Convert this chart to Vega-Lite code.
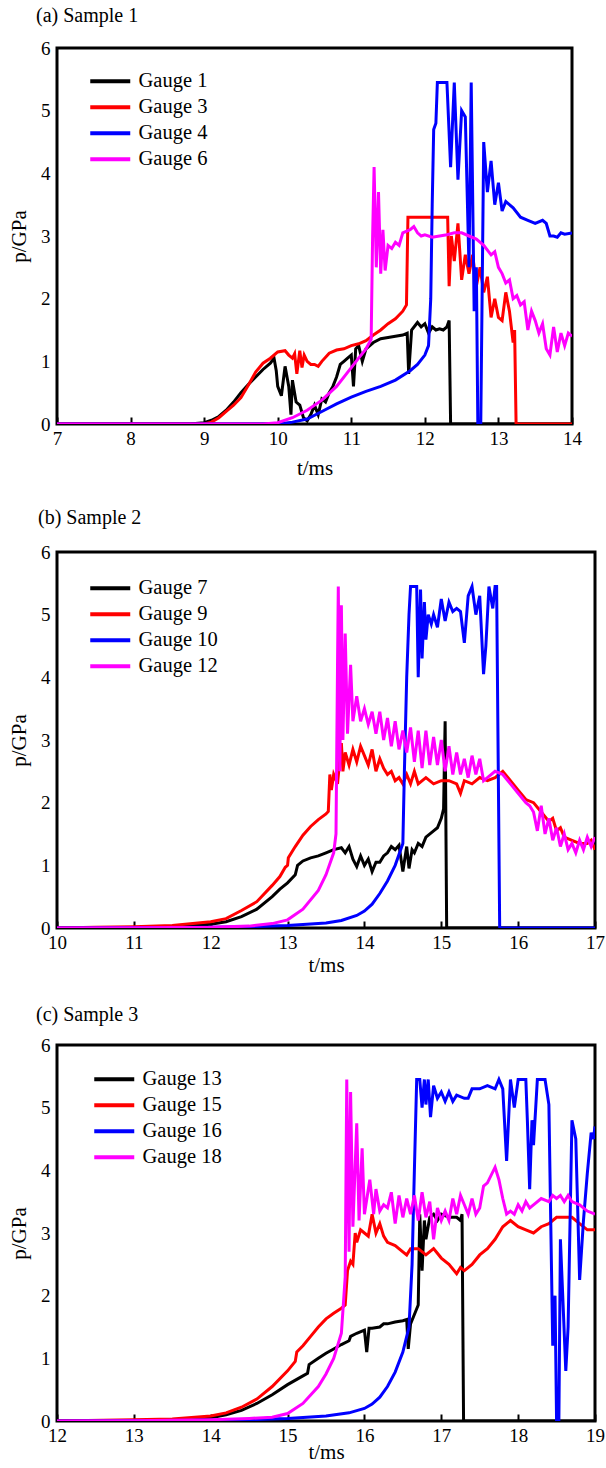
{
"$schema": "https://vega.github.io/schema/vega-lite/v6.json",
"background": "white",
"padding": {"left": 7, "top": 4, "right": 4, "bottom": 4},
"spacing": 26,
"resolve": {"scale": {"color": "independent"}, "legend": {"color": "independent"}},
"config": {
  "font": "Liberation Serif, Times New Roman, DejaVu Serif, serif",
  "view": {"stroke": "black", "strokeWidth": 3},
  "axis": {"grid": false, "domain": false, "labelFont": "Liberation Serif, Times New Roman, DejaVu Serif, serif", "labelFontSize": 19, "labelColor": "black", "titleFont": "Liberation Serif, Times New Roman, DejaVu Serif, serif", "titleFontSize": 21, "titleFontWeight": "normal", "titleColor": "black"},
  "axisX": {"tickSize": -7, "tickColor": "black", "tickWidth": 2, "labelPadding": 12, "labelFlush": false},
  "axisY": {"ticks": false, "labelPadding": 7, "titlePadding": 11},
  "legend": {"title": null, "orient": "none", "padding": 0, "labelFont": "Liberation Serif, Times New Roman, DejaVu Serif, serif", "labelFontSize": 20.5, "labelColor": "black", "symbolType": "M-4,0L4,0", "symbolSize": 100, "symbolStrokeWidth": 4, "labelOffset": 18, "rowPadding": 5}, 
  "title": {"anchor": "start", "frame": "group", "fontSize": 20, "fontWeight": "normal", "font": "Liberation Serif, Times New Roman, DejaVu Serif, serif", "color": "black"}
},
"datasets": {
"a": [
{"g":"Gauge 1","t":7,"p":0},{"g":"Gauge 1","t":8.8,"p":0},{"g":"Gauge 1","t":9.0,"p":0.02},{"g":"Gauge 1","t":9.1,"p":0.06},{"g":"Gauge 1","t":9.2,"p":0.12},{"g":"Gauge 1","t":9.3,"p":0.22},{"g":"Gauge 1","t":9.4,"p":0.35},{"g":"Gauge 1","t":9.5,"p":0.5},{"g":"Gauge 1","t":9.6,"p":0.63},{"g":"Gauge 1","t":9.7,"p":0.75},{"g":"Gauge 1","t":9.8,"p":0.87},{"g":"Gauge 1","t":9.9,"p":0.97},{"g":"Gauge 1","t":9.95,"p":1.05},{"g":"Gauge 1","t":9.98,"p":0.85},{"g":"Gauge 1","t":10.0,"p":0.6},{"g":"Gauge 1","t":10.05,"p":0.45},{"g":"Gauge 1","t":10.1,"p":0.92},{"g":"Gauge 1","t":10.15,"p":0.6},{"g":"Gauge 1","t":10.18,"p":0.15},{"g":"Gauge 1","t":10.2,"p":0.7},{"g":"Gauge 1","t":10.25,"p":0.35},{"g":"Gauge 1","t":10.3,"p":0.3},{"g":"Gauge 1","t":10.35,"p":0.1},{"g":"Gauge 1","t":10.4,"p":0.05},{"g":"Gauge 1","t":10.45,"p":0.15},{"g":"Gauge 1","t":10.5,"p":0.3},{"g":"Gauge 1","t":10.55,"p":0.15},{"g":"Gauge 1","t":10.6,"p":0.4},{"g":"Gauge 1","t":10.65,"p":0.35},{"g":"Gauge 1","t":10.7,"p":0.5},{"g":"Gauge 1","t":10.75,"p":0.6},{"g":"Gauge 1","t":10.8,"p":0.75},{"g":"Gauge 1","t":10.85,"p":0.95},{"g":"Gauge 1","t":10.9,"p":1.0},{"g":"Gauge 1","t":10.95,"p":1.05},{"g":"Gauge 1","t":11.0,"p":1.1},{"g":"Gauge 1","t":11.03,"p":0.6},{"g":"Gauge 1","t":11.06,"p":1.2},{"g":"Gauge 1","t":11.1,"p":1.25},{"g":"Gauge 1","t":11.15,"p":1.0},{"g":"Gauge 1","t":11.2,"p":1.2},{"g":"Gauge 1","t":11.3,"p":1.3},{"g":"Gauge 1","t":11.4,"p":1.36},{"g":"Gauge 1","t":11.5,"p":1.38},{"g":"Gauge 1","t":11.6,"p":1.4},{"g":"Gauge 1","t":11.7,"p":1.42},{"g":"Gauge 1","t":11.76,"p":1.45},{"g":"Gauge 1","t":11.78,"p":0.8},{"g":"Gauge 1","t":11.82,"p":1.5},{"g":"Gauge 1","t":11.9,"p":1.62},{"g":"Gauge 1","t":11.95,"p":1.55},{"g":"Gauge 1","t":12.0,"p":1.6},{"g":"Gauge 1","t":12.05,"p":1.45},{"g":"Gauge 1","t":12.1,"p":1.55},{"g":"Gauge 1","t":12.15,"p":1.5},{"g":"Gauge 1","t":12.2,"p":1.52},{"g":"Gauge 1","t":12.25,"p":1.5},{"g":"Gauge 1","t":12.3,"p":1.55},{"g":"Gauge 1","t":12.33,"p":1.65},{"g":"Gauge 1","t":12.35,"p":0},{"g":"Gauge 1","t":14,"p":0},
{"g":"Gauge 3","t":7,"p":0},{"g":"Gauge 3","t":9.0,"p":0},{"g":"Gauge 3","t":9.1,"p":0.03},{"g":"Gauge 3","t":9.2,"p":0.1},{"g":"Gauge 3","t":9.3,"p":0.2},{"g":"Gauge 3","t":9.4,"p":0.3},{"g":"Gauge 3","t":9.5,"p":0.42},{"g":"Gauge 3","t":9.6,"p":0.62},{"g":"Gauge 3","t":9.7,"p":0.83},{"g":"Gauge 3","t":9.8,"p":0.97},{"g":"Gauge 3","t":9.9,"p":1.05},{"g":"Gauge 3","t":10.0,"p":1.15},{"g":"Gauge 3","t":10.1,"p":1.17},{"g":"Gauge 3","t":10.15,"p":1.1},{"g":"Gauge 3","t":10.2,"p":1.05},{"g":"Gauge 3","t":10.23,"p":1.12},{"g":"Gauge 3","t":10.26,"p":0.8},{"g":"Gauge 3","t":10.3,"p":1.17},{"g":"Gauge 3","t":10.33,"p":0.9},{"g":"Gauge 3","t":10.36,"p":1.1},{"g":"Gauge 3","t":10.4,"p":1.0},{"g":"Gauge 3","t":10.45,"p":0.95},{"g":"Gauge 3","t":10.5,"p":0.95},{"g":"Gauge 3","t":10.55,"p":0.92},{"g":"Gauge 3","t":10.6,"p":1.0},{"g":"Gauge 3","t":10.7,"p":1.13},{"g":"Gauge 3","t":10.8,"p":1.18},{"g":"Gauge 3","t":10.9,"p":1.2},{"g":"Gauge 3","t":11.0,"p":1.25},{"g":"Gauge 3","t":11.1,"p":1.28},{"g":"Gauge 3","t":11.2,"p":1.33},{"g":"Gauge 3","t":11.3,"p":1.42},{"g":"Gauge 3","t":11.4,"p":1.5},{"g":"Gauge 3","t":11.5,"p":1.6},{"g":"Gauge 3","t":11.6,"p":1.68},{"g":"Gauge 3","t":11.7,"p":1.8},{"g":"Gauge 3","t":11.75,"p":1.9},{"g":"Gauge 3","t":11.77,"p":3.3},{"g":"Gauge 3","t":12.31,"p":3.3},{"g":"Gauge 3","t":12.33,"p":2.2},{"g":"Gauge 3","t":12.36,"p":3.0},{"g":"Gauge 3","t":12.4,"p":2.6},{"g":"Gauge 3","t":12.45,"p":3.2},{"g":"Gauge 3","t":12.5,"p":2.3},{"g":"Gauge 3","t":12.55,"p":2.7},{"g":"Gauge 3","t":12.6,"p":2.4},{"g":"Gauge 3","t":12.65,"p":2.7},{"g":"Gauge 3","t":12.7,"p":2.2},{"g":"Gauge 3","t":12.75,"p":2.5},{"g":"Gauge 3","t":12.8,"p":2.1},{"g":"Gauge 3","t":12.85,"p":2.35},{"g":"Gauge 3","t":12.9,"p":1.7},{"g":"Gauge 3","t":12.95,"p":2.0},{"g":"Gauge 3","t":13.0,"p":1.7},{"g":"Gauge 3","t":13.05,"p":1.65},{"g":"Gauge 3","t":13.1,"p":2.1},{"g":"Gauge 3","t":13.15,"p":1.8},{"g":"Gauge 3","t":13.2,"p":1.3},{"g":"Gauge 3","t":13.22,"p":1.5},{"g":"Gauge 3","t":13.24,"p":0},{"g":"Gauge 3","t":14,"p":0},
{"g":"Gauge 4","t":7,"p":0},{"g":"Gauge 4","t":10.0,"p":0},{"g":"Gauge 4","t":10.2,"p":0.03},{"g":"Gauge 4","t":10.4,"p":0.08},{"g":"Gauge 4","t":10.6,"p":0.2},{"g":"Gauge 4","t":10.8,"p":0.32},{"g":"Gauge 4","t":11.0,"p":0.43},{"g":"Gauge 4","t":11.2,"p":0.52},{"g":"Gauge 4","t":11.4,"p":0.6},{"g":"Gauge 4","t":11.6,"p":0.7},{"g":"Gauge 4","t":11.8,"p":0.85},{"g":"Gauge 4","t":11.9,"p":0.95},{"g":"Gauge 4","t":12.0,"p":1.1},{"g":"Gauge 4","t":12.05,"p":1.25},{"g":"Gauge 4","t":12.08,"p":2.0},{"g":"Gauge 4","t":12.1,"p":3.5},{"g":"Gauge 4","t":12.12,"p":4.7},{"g":"Gauge 4","t":12.15,"p":4.8},{"g":"Gauge 4","t":12.17,"p":5.45},{"g":"Gauge 4","t":12.3,"p":5.45},{"g":"Gauge 4","t":12.35,"p":4.1},{"g":"Gauge 4","t":12.4,"p":5.45},{"g":"Gauge 4","t":12.45,"p":3.9},{"g":"Gauge 4","t":12.5,"p":5.0},{"g":"Gauge 4","t":12.55,"p":4.9},{"g":"Gauge 4","t":12.6,"p":2.5},{"g":"Gauge 4","t":12.63,"p":5.45},{"g":"Gauge 4","t":12.67,"p":1.8},{"g":"Gauge 4","t":12.7,"p":2.5},{"g":"Gauge 4","t":12.72,"p":0},{"g":"Gauge 4","t":12.76,"p":0},{"g":"Gauge 4","t":12.8,"p":4.5},{"g":"Gauge 4","t":12.85,"p":3.7},{"g":"Gauge 4","t":12.9,"p":4.2},{"g":"Gauge 4","t":12.95,"p":3.5},{"g":"Gauge 4","t":13.0,"p":3.85},{"g":"Gauge 4","t":13.05,"p":3.4},{"g":"Gauge 4","t":13.1,"p":3.55},{"g":"Gauge 4","t":13.2,"p":3.45},{"g":"Gauge 4","t":13.3,"p":3.3},{"g":"Gauge 4","t":13.4,"p":3.25},{"g":"Gauge 4","t":13.5,"p":3.2},{"g":"Gauge 4","t":13.6,"p":3.25},{"g":"Gauge 4","t":13.65,"p":3.2},{"g":"Gauge 4","t":13.7,"p":3.0},{"g":"Gauge 4","t":13.75,"p":3.0},{"g":"Gauge 4","t":13.8,"p":2.98},{"g":"Gauge 4","t":13.85,"p":3.05},{"g":"Gauge 4","t":13.9,"p":3.03},{"g":"Gauge 4","t":14.0,"p":3.05},
{"g":"Gauge 6","t":7,"p":0},{"g":"Gauge 6","t":9.8,"p":0},{"g":"Gauge 6","t":10.0,"p":0.02},{"g":"Gauge 6","t":10.2,"p":0.1},{"g":"Gauge 6","t":10.4,"p":0.22},{"g":"Gauge 6","t":10.6,"p":0.38},{"g":"Gauge 6","t":10.8,"p":0.6},{"g":"Gauge 6","t":11.0,"p":0.9},{"g":"Gauge 6","t":11.1,"p":1.05},{"g":"Gauge 6","t":11.2,"p":1.2},{"g":"Gauge 6","t":11.27,"p":1.35},{"g":"Gauge 6","t":11.29,"p":3.0},{"g":"Gauge 6","t":11.31,"p":4.1},{"g":"Gauge 6","t":11.34,"p":2.5},{"g":"Gauge 6","t":11.37,"p":3.7},{"g":"Gauge 6","t":11.4,"p":2.4},{"g":"Gauge 6","t":11.43,"p":3.1},{"g":"Gauge 6","t":11.46,"p":2.45},{"g":"Gauge 6","t":11.5,"p":2.85},{"g":"Gauge 6","t":11.55,"p":2.8},{"g":"Gauge 6","t":11.6,"p":2.9},{"g":"Gauge 6","t":11.65,"p":2.85},{"g":"Gauge 6","t":11.7,"p":3.05},{"g":"Gauge 6","t":11.8,"p":3.1},{"g":"Gauge 6","t":11.85,"p":3.15},{"g":"Gauge 6","t":11.9,"p":3.05},{"g":"Gauge 6","t":11.95,"p":3.0},{"g":"Gauge 6","t":12.0,"p":3.02},{"g":"Gauge 6","t":12.1,"p":2.98},{"g":"Gauge 6","t":12.2,"p":3.0},{"g":"Gauge 6","t":12.3,"p":3.02},{"g":"Gauge 6","t":12.4,"p":3.05},{"g":"Gauge 6","t":12.5,"p":3.05},{"g":"Gauge 6","t":12.6,"p":3.0},{"g":"Gauge 6","t":12.7,"p":2.95},{"g":"Gauge 6","t":12.8,"p":2.85},{"g":"Gauge 6","t":12.9,"p":2.7},{"g":"Gauge 6","t":12.95,"p":2.75},{"g":"Gauge 6","t":13.0,"p":2.5},{"g":"Gauge 6","t":13.05,"p":2.4},{"g":"Gauge 6","t":13.1,"p":2.25},{"g":"Gauge 6","t":13.15,"p":2.3},{"g":"Gauge 6","t":13.2,"p":2.0},{"g":"Gauge 6","t":13.25,"p":2.05},{"g":"Gauge 6","t":13.3,"p":1.9},{"g":"Gauge 6","t":13.35,"p":1.95},{"g":"Gauge 6","t":13.4,"p":1.5},{"g":"Gauge 6","t":13.45,"p":1.8},{"g":"Gauge 6","t":13.5,"p":1.65},{"g":"Gauge 6","t":13.55,"p":1.45},{"g":"Gauge 6","t":13.6,"p":1.6},{"g":"Gauge 6","t":13.65,"p":1.2},{"g":"Gauge 6","t":13.7,"p":1.1},{"g":"Gauge 6","t":13.75,"p":1.55},{"g":"Gauge 6","t":13.8,"p":1.15},{"g":"Gauge 6","t":13.85,"p":1.45},{"g":"Gauge 6","t":13.9,"p":1.25},{"g":"Gauge 6","t":13.95,"p":1.45},{"g":"Gauge 6","t":14.0,"p":1.4}
],
"b": [
{"g":"Gauge 7","t":10,"p":0},{"g":"Gauge 7","t":11,"p":0.005},{"g":"Gauge 7","t":11.5,"p":0.02},{"g":"Gauge 7","t":12.0,"p":0.06},{"g":"Gauge 7","t":12.2,"p":0.1},{"g":"Gauge 7","t":12.4,"p":0.18},{"g":"Gauge 7","t":12.6,"p":0.3},{"g":"Gauge 7","t":12.8,"p":0.5},{"g":"Gauge 7","t":12.9,"p":0.62},{"g":"Gauge 7","t":13.0,"p":0.72},{"g":"Gauge 7","t":13.1,"p":0.85},{"g":"Gauge 7","t":13.13,"p":1.0},{"g":"Gauge 7","t":13.2,"p":1.07},{"g":"Gauge 7","t":13.3,"p":1.12},{"g":"Gauge 7","t":13.4,"p":1.15},{"g":"Gauge 7","t":13.5,"p":1.2},{"g":"Gauge 7","t":13.6,"p":1.25},{"g":"Gauge 7","t":13.7,"p":1.28},{"g":"Gauge 7","t":13.75,"p":1.2},{"g":"Gauge 7","t":13.8,"p":1.3},{"g":"Gauge 7","t":13.85,"p":1.1},{"g":"Gauge 7","t":13.9,"p":0.98},{"g":"Gauge 7","t":13.95,"p":1.15},{"g":"Gauge 7","t":14.0,"p":1.0},{"g":"Gauge 7","t":14.05,"p":1.1},{"g":"Gauge 7","t":14.1,"p":0.9},{"g":"Gauge 7","t":14.15,"p":1.05},{"g":"Gauge 7","t":14.2,"p":1.05},{"g":"Gauge 7","t":14.25,"p":1.15},{"g":"Gauge 7","t":14.3,"p":1.2},{"g":"Gauge 7","t":14.35,"p":1.3},{"g":"Gauge 7","t":14.4,"p":1.25},{"g":"Gauge 7","t":14.45,"p":1.32},{"g":"Gauge 7","t":14.5,"p":0.9},{"g":"Gauge 7","t":14.55,"p":1.3},{"g":"Gauge 7","t":14.58,"p":0.95},{"g":"Gauge 7","t":14.62,"p":1.25},{"g":"Gauge 7","t":14.65,"p":1.2},{"g":"Gauge 7","t":14.7,"p":1.35},{"g":"Gauge 7","t":14.75,"p":1.3},{"g":"Gauge 7","t":14.8,"p":1.45},{"g":"Gauge 7","t":14.9,"p":1.55},{"g":"Gauge 7","t":14.95,"p":1.6},{"g":"Gauge 7","t":15.0,"p":1.75},{"g":"Gauge 7","t":15.03,"p":1.9},{"g":"Gauge 7","t":15.05,"p":3.3},{"g":"Gauge 7","t":15.07,"p":0},{"g":"Gauge 7","t":17,"p":0},
{"g":"Gauge 9","t":10,"p":0},{"g":"Gauge 9","t":10.5,"p":0.01},{"g":"Gauge 9","t":11.0,"p":0.02},{"g":"Gauge 9","t":11.5,"p":0.04},{"g":"Gauge 9","t":12.0,"p":0.1},{"g":"Gauge 9","t":12.2,"p":0.15},{"g":"Gauge 9","t":12.4,"p":0.28},{"g":"Gauge 9","t":12.6,"p":0.42},{"g":"Gauge 9","t":12.8,"p":0.68},{"g":"Gauge 9","t":12.9,"p":0.82},{"g":"Gauge 9","t":12.97,"p":0.97},{"g":"Gauge 9","t":13.0,"p":1.0},{"g":"Gauge 9","t":13.01,"p":1.12},{"g":"Gauge 9","t":13.1,"p":1.3},{"g":"Gauge 9","t":13.2,"p":1.48},{"g":"Gauge 9","t":13.3,"p":1.62},{"g":"Gauge 9","t":13.4,"p":1.73},{"g":"Gauge 9","t":13.5,"p":1.82},{"g":"Gauge 9","t":13.53,"p":1.86},{"g":"Gauge 9","t":13.55,"p":2.45},{"g":"Gauge 9","t":13.57,"p":2.2},{"g":"Gauge 9","t":13.6,"p":2.45},{"g":"Gauge 9","t":13.65,"p":2.3},{"g":"Gauge 9","t":13.7,"p":2.95},{"g":"Gauge 9","t":13.72,"p":2.5},{"g":"Gauge 9","t":13.75,"p":2.8},{"g":"Gauge 9","t":13.8,"p":2.6},{"g":"Gauge 9","t":13.85,"p":2.85},{"g":"Gauge 9","t":13.9,"p":2.65},{"g":"Gauge 9","t":13.95,"p":2.9},{"g":"Gauge 9","t":14.0,"p":2.75},{"g":"Gauge 9","t":14.05,"p":2.6},{"g":"Gauge 9","t":14.1,"p":2.85},{"g":"Gauge 9","t":14.15,"p":2.5},{"g":"Gauge 9","t":14.2,"p":2.7},{"g":"Gauge 9","t":14.25,"p":2.55},{"g":"Gauge 9","t":14.3,"p":2.45},{"g":"Gauge 9","t":14.35,"p":2.5},{"g":"Gauge 9","t":14.4,"p":2.35},{"g":"Gauge 9","t":14.45,"p":2.4},{"g":"Gauge 9","t":14.5,"p":2.3},{"g":"Gauge 9","t":14.55,"p":2.45},{"g":"Gauge 9","t":14.6,"p":2.3},{"g":"Gauge 9","t":14.65,"p":2.5},{"g":"Gauge 9","t":14.7,"p":2.3},{"g":"Gauge 9","t":14.8,"p":2.4},{"g":"Gauge 9","t":14.9,"p":2.3},{"g":"Gauge 9","t":15.0,"p":2.35},{"g":"Gauge 9","t":15.1,"p":2.35},{"g":"Gauge 9","t":15.2,"p":2.3},{"g":"Gauge 9","t":15.25,"p":2.15},{"g":"Gauge 9","t":15.3,"p":2.35},{"g":"Gauge 9","t":15.4,"p":2.3},{"g":"Gauge 9","t":15.5,"p":2.4},{"g":"Gauge 9","t":15.6,"p":2.35},{"g":"Gauge 9","t":15.7,"p":2.4},{"g":"Gauge 9","t":15.8,"p":2.5},{"g":"Gauge 9","t":15.9,"p":2.35},{"g":"Gauge 9","t":16.0,"p":2.2},{"g":"Gauge 9","t":16.1,"p":2.05},{"g":"Gauge 9","t":16.2,"p":2.0},{"g":"Gauge 9","t":16.3,"p":1.85},{"g":"Gauge 9","t":16.4,"p":1.7},{"g":"Gauge 9","t":16.45,"p":1.75},{"g":"Gauge 9","t":16.5,"p":1.55},{"g":"Gauge 9","t":16.55,"p":1.6},{"g":"Gauge 9","t":16.6,"p":1.45},{"g":"Gauge 9","t":16.7,"p":1.4},{"g":"Gauge 9","t":16.8,"p":1.35},{"g":"Gauge 9","t":16.9,"p":1.35},{"g":"Gauge 9","t":16.95,"p":1.4},{"g":"Gauge 9","t":17.0,"p":1.25},
{"g":"Gauge 10","t":10,"p":0},{"g":"Gauge 10","t":12.0,"p":0.01},{"g":"Gauge 10","t":12.5,"p":0.02},{"g":"Gauge 10","t":13.0,"p":0.04},{"g":"Gauge 10","t":13.5,"p":0.08},{"g":"Gauge 10","t":13.7,"p":0.12},{"g":"Gauge 10","t":13.9,"p":0.2},{"g":"Gauge 10","t":14.0,"p":0.27},{"g":"Gauge 10","t":14.1,"p":0.38},{"g":"Gauge 10","t":14.2,"p":0.55},{"g":"Gauge 10","t":14.3,"p":0.75},{"g":"Gauge 10","t":14.4,"p":1.0},{"g":"Gauge 10","t":14.5,"p":1.35},{"g":"Gauge 10","t":14.52,"p":2.5},{"g":"Gauge 10","t":14.55,"p":4.0},{"g":"Gauge 10","t":14.58,"p":5.0},{"g":"Gauge 10","t":14.6,"p":5.45},{"g":"Gauge 10","t":14.68,"p":5.45},{"g":"Gauge 10","t":14.7,"p":4.0},{"g":"Gauge 10","t":14.73,"p":5.4},{"g":"Gauge 10","t":14.75,"p":4.3},{"g":"Gauge 10","t":14.78,"p":5.2},{"g":"Gauge 10","t":14.8,"p":4.6},{"g":"Gauge 10","t":14.83,"p":5.0},{"g":"Gauge 10","t":14.87,"p":4.85},{"g":"Gauge 10","t":14.9,"p":5.0},{"g":"Gauge 10","t":14.95,"p":4.8},{"g":"Gauge 10","t":15.0,"p":5.25},{"g":"Gauge 10","t":15.05,"p":4.9},{"g":"Gauge 10","t":15.1,"p":5.2},{"g":"Gauge 10","t":15.15,"p":5.05},{"g":"Gauge 10","t":15.2,"p":5.1},{"g":"Gauge 10","t":15.25,"p":5.05},{"g":"Gauge 10","t":15.3,"p":4.55},{"g":"Gauge 10","t":15.35,"p":5.3},{"g":"Gauge 10","t":15.4,"p":5.45},{"g":"Gauge 10","t":15.45,"p":5.0},{"g":"Gauge 10","t":15.5,"p":5.3},{"g":"Gauge 10","t":15.55,"p":4.05},{"g":"Gauge 10","t":15.58,"p":4.5},{"g":"Gauge 10","t":15.62,"p":5.45},{"g":"Gauge 10","t":15.67,"p":5.1},{"g":"Gauge 10","t":15.7,"p":5.45},{"g":"Gauge 10","t":15.72,"p":5.45},{"g":"Gauge 10","t":15.76,"p":0},{"g":"Gauge 10","t":17,"p":0},
{"g":"Gauge 12","t":10,"p":0},{"g":"Gauge 12","t":11,"p":0.005},{"g":"Gauge 12","t":12.0,"p":0.01},{"g":"Gauge 12","t":12.5,"p":0.03},{"g":"Gauge 12","t":12.8,"p":0.07},{"g":"Gauge 12","t":13.0,"p":0.13},{"g":"Gauge 12","t":13.2,"p":0.3},{"g":"Gauge 12","t":13.4,"p":0.6},{"g":"Gauge 12","t":13.5,"p":0.85},{"g":"Gauge 12","t":13.6,"p":1.2},{"g":"Gauge 12","t":13.63,"p":1.5},{"g":"Gauge 12","t":13.65,"p":4.2},{"g":"Gauge 12","t":13.66,"p":5.45},{"g":"Gauge 12","t":13.68,"p":2.5},{"g":"Gauge 12","t":13.7,"p":5.15},{"g":"Gauge 12","t":13.72,"p":3.0},{"g":"Gauge 12","t":13.75,"p":4.7},{"g":"Gauge 12","t":13.78,"p":3.1},{"g":"Gauge 12","t":13.82,"p":4.2},{"g":"Gauge 12","t":13.85,"p":3.3},{"g":"Gauge 12","t":13.9,"p":3.7},{"g":"Gauge 12","t":13.95,"p":3.3},{"g":"Gauge 12","t":14.0,"p":3.5},{"g":"Gauge 12","t":14.05,"p":3.25},{"g":"Gauge 12","t":14.1,"p":3.45},{"g":"Gauge 12","t":14.15,"p":3.1},{"g":"Gauge 12","t":14.2,"p":3.45},{"g":"Gauge 12","t":14.25,"p":3.0},{"g":"Gauge 12","t":14.3,"p":3.35},{"g":"Gauge 12","t":14.35,"p":2.9},{"g":"Gauge 12","t":14.4,"p":3.3},{"g":"Gauge 12","t":14.45,"p":2.85},{"g":"Gauge 12","t":14.5,"p":3.15},{"g":"Gauge 12","t":14.55,"p":2.8},{"g":"Gauge 12","t":14.6,"p":3.2},{"g":"Gauge 12","t":14.65,"p":2.65},{"g":"Gauge 12","t":14.7,"p":3.15},{"g":"Gauge 12","t":14.75,"p":2.55},{"g":"Gauge 12","t":14.8,"p":3.15},{"g":"Gauge 12","t":14.85,"p":2.6},{"g":"Gauge 12","t":14.9,"p":3.05},{"g":"Gauge 12","t":14.95,"p":2.6},{"g":"Gauge 12","t":15.0,"p":3.0},{"g":"Gauge 12","t":15.05,"p":2.5},{"g":"Gauge 12","t":15.1,"p":2.9},{"g":"Gauge 12","t":15.15,"p":2.45},{"g":"Gauge 12","t":15.2,"p":2.8},{"g":"Gauge 12","t":15.25,"p":2.45},{"g":"Gauge 12","t":15.3,"p":2.7},{"g":"Gauge 12","t":15.35,"p":2.4},{"g":"Gauge 12","t":15.4,"p":2.75},{"g":"Gauge 12","t":15.45,"p":2.45},{"g":"Gauge 12","t":15.5,"p":2.7},{"g":"Gauge 12","t":15.55,"p":2.35},{"g":"Gauge 12","t":15.6,"p":2.4},{"g":"Gauge 12","t":15.7,"p":2.5},{"g":"Gauge 12","t":15.8,"p":2.45},{"g":"Gauge 12","t":15.9,"p":2.3},{"g":"Gauge 12","t":16.0,"p":2.15},{"g":"Gauge 12","t":16.1,"p":2.0},{"g":"Gauge 12","t":16.15,"p":1.95},{"g":"Gauge 12","t":16.2,"p":1.85},{"g":"Gauge 12","t":16.25,"p":1.55},{"g":"Gauge 12","t":16.3,"p":1.95},{"g":"Gauge 12","t":16.35,"p":1.5},{"g":"Gauge 12","t":16.4,"p":1.75},{"g":"Gauge 12","t":16.45,"p":1.4},{"g":"Gauge 12","t":16.5,"p":1.6},{"g":"Gauge 12","t":16.55,"p":1.3},{"g":"Gauge 12","t":16.6,"p":1.5},{"g":"Gauge 12","t":16.65,"p":1.25},{"g":"Gauge 12","t":16.7,"p":1.35},{"g":"Gauge 12","t":16.75,"p":1.2},{"g":"Gauge 12","t":16.8,"p":1.4},{"g":"Gauge 12","t":16.85,"p":1.25},{"g":"Gauge 12","t":16.9,"p":1.45},{"g":"Gauge 12","t":16.95,"p":1.3},{"g":"Gauge 12","t":17.0,"p":1.45}
],
"c": [
{"g":"Gauge 13","t":12,"p":0},{"g":"Gauge 13","t":13.5,"p":0},{"g":"Gauge 13","t":14.0,"p":0.05},{"g":"Gauge 13","t":14.2,"p":0.1},{"g":"Gauge 13","t":14.4,"p":0.17},{"g":"Gauge 13","t":14.6,"p":0.28},{"g":"Gauge 13","t":14.8,"p":0.42},{"g":"Gauge 13","t":15.0,"p":0.58},{"g":"Gauge 13","t":15.2,"p":0.72},{"g":"Gauge 13","t":15.26,"p":0.76},{"g":"Gauge 13","t":15.28,"p":0.9},{"g":"Gauge 13","t":15.4,"p":1.0},{"g":"Gauge 13","t":15.5,"p":1.08},{"g":"Gauge 13","t":15.6,"p":1.15},{"g":"Gauge 13","t":15.7,"p":1.22},{"g":"Gauge 13","t":15.8,"p":1.28},{"g":"Gauge 13","t":15.82,"p":1.35},{"g":"Gauge 13","t":15.9,"p":1.4},{"g":"Gauge 13","t":16.0,"p":1.45},{"g":"Gauge 13","t":16.03,"p":1.1},{"g":"Gauge 13","t":16.06,"p":1.48},{"g":"Gauge 13","t":16.1,"p":1.48},{"g":"Gauge 13","t":16.2,"p":1.5},{"g":"Gauge 13","t":16.25,"p":1.55},{"g":"Gauge 13","t":16.3,"p":1.55},{"g":"Gauge 13","t":16.4,"p":1.58},{"g":"Gauge 13","t":16.5,"p":1.6},{"g":"Gauge 13","t":16.55,"p":1.62},{"g":"Gauge 13","t":16.57,"p":1.15},{"g":"Gauge 13","t":16.6,"p":1.55},{"g":"Gauge 13","t":16.65,"p":1.7},{"g":"Gauge 13","t":16.7,"p":1.85},{"g":"Gauge 13","t":16.72,"p":3.3},{"g":"Gauge 13","t":16.75,"p":2.4},{"g":"Gauge 13","t":16.78,"p":3.2},{"g":"Gauge 13","t":16.8,"p":2.9},{"g":"Gauge 13","t":16.85,"p":3.25},{"g":"Gauge 13","t":16.9,"p":3.3},{"g":"Gauge 13","t":16.95,"p":3.2},{"g":"Gauge 13","t":17.0,"p":3.3},{"g":"Gauge 13","t":17.1,"p":3.25},{"g":"Gauge 13","t":17.2,"p":3.25},{"g":"Gauge 13","t":17.25,"p":3.2},{"g":"Gauge 13","t":17.27,"p":3.3},{"g":"Gauge 13","t":17.29,"p":0},{"g":"Gauge 13","t":19,"p":0},
{"g":"Gauge 15","t":12,"p":0},{"g":"Gauge 15","t":13.0,"p":0.02},{"g":"Gauge 15","t":13.5,"p":0.03},{"g":"Gauge 15","t":14.0,"p":0.08},{"g":"Gauge 15","t":14.2,"p":0.13},{"g":"Gauge 15","t":14.4,"p":0.22},{"g":"Gauge 15","t":14.6,"p":0.35},{"g":"Gauge 15","t":14.8,"p":0.55},{"g":"Gauge 15","t":15.0,"p":0.8},{"g":"Gauge 15","t":15.1,"p":0.95},{"g":"Gauge 15","t":15.12,"p":1.1},{"g":"Gauge 15","t":15.2,"p":1.2},{"g":"Gauge 15","t":15.3,"p":1.35},{"g":"Gauge 15","t":15.4,"p":1.5},{"g":"Gauge 15","t":15.5,"p":1.63},{"g":"Gauge 15","t":15.6,"p":1.72},{"g":"Gauge 15","t":15.7,"p":1.8},{"g":"Gauge 15","t":15.75,"p":1.85},{"g":"Gauge 15","t":15.78,"p":2.4},{"g":"Gauge 15","t":15.82,"p":2.55},{"g":"Gauge 15","t":15.85,"p":2.5},{"g":"Gauge 15","t":15.88,"p":3.0},{"g":"Gauge 15","t":15.9,"p":2.85},{"g":"Gauge 15","t":15.95,"p":3.05},{"g":"Gauge 15","t":16.0,"p":3.0},{"g":"Gauge 15","t":16.05,"p":2.95},{"g":"Gauge 15","t":16.1,"p":3.3},{"g":"Gauge 15","t":16.15,"p":3.0},{"g":"Gauge 15","t":16.2,"p":3.15},{"g":"Gauge 15","t":16.25,"p":2.95},{"g":"Gauge 15","t":16.3,"p":2.85},{"g":"Gauge 15","t":16.4,"p":2.8},{"g":"Gauge 15","t":16.5,"p":2.7},{"g":"Gauge 15","t":16.55,"p":2.65},{"g":"Gauge 15","t":16.6,"p":2.75},{"g":"Gauge 15","t":16.7,"p":2.75},{"g":"Gauge 15","t":16.8,"p":2.65},{"g":"Gauge 15","t":16.9,"p":2.75},{"g":"Gauge 15","t":17.0,"p":2.6},{"g":"Gauge 15","t":17.1,"p":2.5},{"g":"Gauge 15","t":17.2,"p":2.35},{"g":"Gauge 15","t":17.25,"p":2.45},{"g":"Gauge 15","t":17.3,"p":2.4},{"g":"Gauge 15","t":17.4,"p":2.5},{"g":"Gauge 15","t":17.5,"p":2.65},{"g":"Gauge 15","t":17.6,"p":2.75},{"g":"Gauge 15","t":17.7,"p":2.9},{"g":"Gauge 15","t":17.8,"p":3.1},{"g":"Gauge 15","t":17.9,"p":3.2},{"g":"Gauge 15","t":18.0,"p":3.1},{"g":"Gauge 15","t":18.1,"p":3.05},{"g":"Gauge 15","t":18.2,"p":3.0},{"g":"Gauge 15","t":18.3,"p":3.1},{"g":"Gauge 15","t":18.4,"p":3.15},{"g":"Gauge 15","t":18.5,"p":3.25},{"g":"Gauge 15","t":18.6,"p":3.25},{"g":"Gauge 15","t":18.7,"p":3.25},{"g":"Gauge 15","t":18.8,"p":3.15},{"g":"Gauge 15","t":18.9,"p":3.05},{"g":"Gauge 15","t":19.0,"p":3.05},
{"g":"Gauge 16","t":12,"p":0},{"g":"Gauge 16","t":14,"p":0.01},{"g":"Gauge 16","t":14.5,"p":0.02},{"g":"Gauge 16","t":15.0,"p":0.04},{"g":"Gauge 16","t":15.5,"p":0.08},{"g":"Gauge 16","t":15.8,"p":0.13},{"g":"Gauge 16","t":16.0,"p":0.2},{"g":"Gauge 16","t":16.1,"p":0.27},{"g":"Gauge 16","t":16.2,"p":0.38},{"g":"Gauge 16","t":16.3,"p":0.55},{"g":"Gauge 16","t":16.4,"p":0.78},{"g":"Gauge 16","t":16.5,"p":1.1},{"g":"Gauge 16","t":16.58,"p":1.5},{"g":"Gauge 16","t":16.62,"p":2.5},{"g":"Gauge 16","t":16.65,"p":4.0},{"g":"Gauge 16","t":16.68,"p":5.45},{"g":"Gauge 16","t":16.72,"p":5.45},{"g":"Gauge 16","t":16.75,"p":5.0},{"g":"Gauge 16","t":16.78,"p":5.45},{"g":"Gauge 16","t":16.8,"p":5.05},{"g":"Gauge 16","t":16.83,"p":5.45},{"g":"Gauge 16","t":16.86,"p":4.85},{"g":"Gauge 16","t":16.9,"p":5.35},{"g":"Gauge 16","t":16.95,"p":5.15},{"g":"Gauge 16","t":17.0,"p":5.25},{"g":"Gauge 16","t":17.05,"p":5.1},{"g":"Gauge 16","t":17.1,"p":5.25},{"g":"Gauge 16","t":17.15,"p":5.1},{"g":"Gauge 16","t":17.2,"p":5.2},{"g":"Gauge 16","t":17.3,"p":5.15},{"g":"Gauge 16","t":17.35,"p":5.15},{"g":"Gauge 16","t":17.4,"p":5.3},{"g":"Gauge 16","t":17.5,"p":5.3},{"g":"Gauge 16","t":17.6,"p":5.35},{"g":"Gauge 16","t":17.7,"p":5.3},{"g":"Gauge 16","t":17.75,"p":5.45},{"g":"Gauge 16","t":17.8,"p":5.3},{"g":"Gauge 16","t":17.85,"p":4.15},{"g":"Gauge 16","t":17.9,"p":5.45},{"g":"Gauge 16","t":17.95,"p":5.0},{"g":"Gauge 16","t":18.0,"p":5.45},{"g":"Gauge 16","t":18.1,"p":5.45},{"g":"Gauge 16","t":18.12,"p":4.8},{"g":"Gauge 16","t":18.15,"p":3.7},{"g":"Gauge 16","t":18.18,"p":4.8},{"g":"Gauge 16","t":18.2,"p":4.4},{"g":"Gauge 16","t":18.25,"p":5.45},{"g":"Gauge 16","t":18.35,"p":5.45},{"g":"Gauge 16","t":18.4,"p":5.05},{"g":"Gauge 16","t":18.45,"p":1.2},{"g":"Gauge 16","t":18.48,"p":2.0},{"g":"Gauge 16","t":18.5,"p":0},{"g":"Gauge 16","t":18.53,"p":0},{"g":"Gauge 16","t":18.55,"p":2.9},{"g":"Gauge 16","t":18.58,"p":2.0},{"g":"Gauge 16","t":18.62,"p":0.8},{"g":"Gauge 16","t":18.65,"p":1.5},{"g":"Gauge 16","t":18.7,"p":4.8},{"g":"Gauge 16","t":18.75,"p":4.5},{"g":"Gauge 16","t":18.8,"p":2.25},{"g":"Gauge 16","t":18.85,"p":3.2},{"g":"Gauge 16","t":18.9,"p":3.95},{"g":"Gauge 16","t":18.95,"p":4.6},{"g":"Gauge 16","t":18.98,"p":4.5},{"g":"Gauge 16","t":19.0,"p":4.7},
{"g":"Gauge 18","t":12,"p":0},{"g":"Gauge 18","t":13,"p":0.005},{"g":"Gauge 18","t":14.0,"p":0.02},{"g":"Gauge 18","t":14.5,"p":0.04},{"g":"Gauge 18","t":14.8,"p":0.06},{"g":"Gauge 18","t":15.0,"p":0.12},{"g":"Gauge 18","t":15.2,"p":0.28},{"g":"Gauge 18","t":15.4,"p":0.55},{"g":"Gauge 18","t":15.5,"p":0.75},{"g":"Gauge 18","t":15.6,"p":1.0},{"g":"Gauge 18","t":15.7,"p":1.4},{"g":"Gauge 18","t":15.75,"p":2.3},{"g":"Gauge 18","t":15.77,"p":5.45},{"g":"Gauge 18","t":15.8,"p":2.7},{"g":"Gauge 18","t":15.82,"p":5.25},{"g":"Gauge 18","t":15.85,"p":3.1},{"g":"Gauge 18","t":15.9,"p":4.75},{"g":"Gauge 18","t":15.93,"p":3.2},{"g":"Gauge 18","t":15.97,"p":4.35},{"g":"Gauge 18","t":16.0,"p":3.3},{"g":"Gauge 18","t":16.07,"p":3.85},{"g":"Gauge 18","t":16.12,"p":3.3},{"g":"Gauge 18","t":16.15,"p":3.7},{"g":"Gauge 18","t":16.2,"p":3.35},{"g":"Gauge 18","t":16.25,"p":3.45},{"g":"Gauge 18","t":16.3,"p":3.4},{"g":"Gauge 18","t":16.35,"p":3.65},{"g":"Gauge 18","t":16.4,"p":3.15},{"g":"Gauge 18","t":16.45,"p":3.6},{"g":"Gauge 18","t":16.5,"p":3.25},{"g":"Gauge 18","t":16.55,"p":3.55},{"g":"Gauge 18","t":16.6,"p":3.3},{"g":"Gauge 18","t":16.65,"p":3.6},{"g":"Gauge 18","t":16.7,"p":3.2},{"g":"Gauge 18","t":16.75,"p":3.65},{"g":"Gauge 18","t":16.8,"p":3.25},{"g":"Gauge 18","t":16.85,"p":3.5},{"g":"Gauge 18","t":16.9,"p":2.9},{"g":"Gauge 18","t":16.95,"p":3.4},{"g":"Gauge 18","t":17.0,"p":3.2},{"g":"Gauge 18","t":17.05,"p":3.35},{"g":"Gauge 18","t":17.1,"p":3.2},{"g":"Gauge 18","t":17.15,"p":3.55},{"g":"Gauge 18","t":17.2,"p":3.3},{"g":"Gauge 18","t":17.25,"p":3.6},{"g":"Gauge 18","t":17.3,"p":3.45},{"g":"Gauge 18","t":17.35,"p":3.3},{"g":"Gauge 18","t":17.4,"p":3.55},{"g":"Gauge 18","t":17.45,"p":3.3},{"g":"Gauge 18","t":17.5,"p":3.4},{"g":"Gauge 18","t":17.55,"p":3.75},{"g":"Gauge 18","t":17.6,"p":3.8},{"g":"Gauge 18","t":17.7,"p":4.05},{"g":"Gauge 18","t":17.75,"p":3.85},{"g":"Gauge 18","t":17.8,"p":3.55},{"g":"Gauge 18","t":17.85,"p":3.3},{"g":"Gauge 18","t":17.9,"p":3.35},{"g":"Gauge 18","t":17.95,"p":3.3},{"g":"Gauge 18","t":18.0,"p":3.45},{"g":"Gauge 18","t":18.05,"p":3.35},{"g":"Gauge 18","t":18.1,"p":3.5},{"g":"Gauge 18","t":18.15,"p":3.4},{"g":"Gauge 18","t":18.2,"p":3.45},{"g":"Gauge 18","t":18.3,"p":3.55},{"g":"Gauge 18","t":18.4,"p":3.5},{"g":"Gauge 18","t":18.45,"p":3.6},{"g":"Gauge 18","t":18.5,"p":3.55},{"g":"Gauge 18","t":18.55,"p":3.6},{"g":"Gauge 18","t":18.6,"p":3.5},{"g":"Gauge 18","t":18.65,"p":3.6},{"g":"Gauge 18","t":18.7,"p":3.5},{"g":"Gauge 18","t":18.8,"p":3.45},{"g":"Gauge 18","t":18.9,"p":3.35},{"g":"Gauge 18","t":19.0,"p":3.3}
]
},
"vconcat": [
{
  "title": {"text": "(a) Sample 1", "offset": 13, "dx": -21},
  "width": 515, "height": 376,
  "data": {"name": "a"},
  "mark": {"type": "line", "clip": true, "strokeWidth": 3},
  "encoding": {
    "x": {"field": "t", "type": "quantitative", "scale": {"domain": [7, 14], "nice": false}, "axis": {"title": "t/ms", "values": [7,8,9,10,11,12,13,14], "titlePadding": 9}},
    "y": {"field": "p", "type": "quantitative", "scale": {"domain": [0, 6], "nice": false}, "axis": {"title": "p/GPa", "values": [0,1,2,3,4,5,6]}},
    "color": {"field": "g", "type": "nominal", "scale": {"domain": ["Gauge 1","Gauge 3","Gauge 4","Gauge 6"], "range": ["#000000","#ff0000","#0000ff","#ff00ff"]}, "legend": {"legendX": 43, "legendY": 23}}
  }
},
{
  "title": {"text": "(b) Sample 2", "offset": 15, "dx": -19},
  "width": 538, "height": 376,
  "data": {"name": "b"},
  "mark": {"type": "line", "clip": true, "strokeWidth": 3},
  "encoding": {
    "x": {"field": "t", "type": "quantitative", "scale": {"domain": [10, 17], "nice": false}, "axis": {"title": "t/ms", "values": [10,11,12,13,14,15,16,17], "titlePadding": 2}},
    "y": {"field": "p", "type": "quantitative", "scale": {"domain": [0, 6], "nice": false}, "axis": {"title": "p/GPa", "values": [0,1,2,3,4,5,6]}},
    "color": {"field": "g", "type": "nominal", "scale": {"domain": ["Gauge 7","Gauge 9","Gauge 10","Gauge 12"], "range": ["#000000","#ff0000","#0000ff","#ff00ff"]}, "legend": {"legendX": 43, "legendY": 26}}
  }
},
{
  "title": {"text": "(c) Sample 3", "offset": 11, "dx": -21},
  "width": 538, "height": 376,
  "data": {"name": "c"},
  "mark": {"type": "line", "clip": true, "strokeWidth": 3},
  "encoding": {
    "x": {"field": "t", "type": "quantitative", "scale": {"domain": [12, 19], "nice": false}, "axis": {"title": "t/ms", "values": [12,13,14,15,16,17,18,19], "titlePadding": -4}},
    "y": {"field": "p", "type": "quantitative", "scale": {"domain": [0, 6], "nice": false}, "axis": {"title": "p/GPa", "values": [0,1,2,3,4,5,6]}},
    "color": {"field": "g", "type": "nominal", "scale": {"domain": ["Gauge 13","Gauge 15","Gauge 16","Gauge 18"], "range": ["#000000","#ff0000","#0000ff","#ff00ff"]}, "legend": {"legendX": 47, "legendY": 24}}
  }
}
]
}
